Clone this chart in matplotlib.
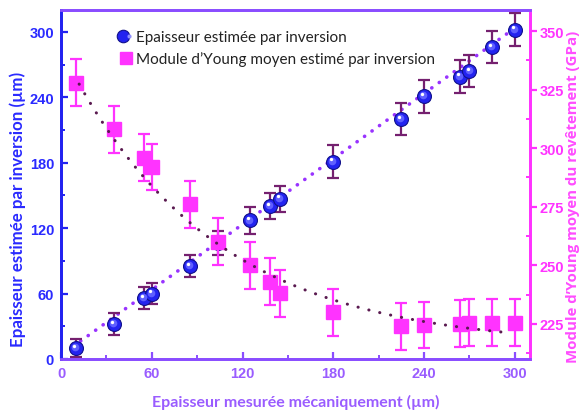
import numpy as np
import matplotlib
matplotlib.use("Agg")
import matplotlib.pyplot as plt
from matplotlib.lines import Line2D
from matplotlib.legend_handler import HandlerTuple
from matplotlib.transforms import ScaledTranslation
from matplotlib.ticker import MultipleLocator

# ---------------- data ----------------
x_thick = [10, 35, 55, 60, 85, 104, 125, 138, 145, 180, 225, 240, 264, 270, 285, 300]
y_thick = [10, 32, 56, 60, 85, 106, 127, 140, 147, 181, 220, 241, 259, 264, 286, 302]
y_thick_err = [8, 10, 10, 10, 10, 11, 12, 12, 12, 15, 15, 15, 15, 15, 15, 15]

x_young = [10, 35, 55, 60, 85, 104, 125, 138, 145, 180, 225, 240, 264, 270, 285, 300]
e_young = [328, 308, 296, 292, 276, 260, 250, 243, 238, 230, 224, 224.5, 225, 225.5, 225.5, 225.5]
e_young_err = [10] * 16

# fit parameters
thick_fit = (1.0, 3.5)            # slope, intercept
young_fit = (215.0, 127.0, 98.0)  # plateau, amplitude, decay length

x_ticks = [0, 60, 120, 180, 240, 300]
y_left_ticks = [0, 60, 120, 180, 240, 300]
y_right_ticks = [225, 250, 275, 300, 325, 350]

label_legend_1 = "Epaisseur estimée par inversion"
label_legend_2 = "Module d\u2019Young moyen estimé par inversion"
xlabel = "Epaisseur mesurée mécaniquement (µm)"
ylabel_left = "Epaisseur estimée par inversion (µm)"
ylabel_right = "Module d\u2019Young moyen du revêtement (GPa)"

# ---------------- colours ----------------
C_BLUE = "#2323f0"
C_BLUE_TXT = "#2a2aff"
C_MAG = "#ff33ff"
C_PURP = "#8a4dff"
C_PURP_TXT = "#9a5cff"
C_ERR_BLUE = "#75206f"
C_FIT_BLUE = "#9933ff"
C_FIT_MAG = "#5a1a50"

fig = plt.figure(figsize=(5.8, 4.14), dpi=100)
ax = fig.add_axes([61 / 580, 1 - 360 / 414, (530 - 61) / 580, (360 - 11) / 414])
ax2 = ax.twinx()

# ---------------- left axis: thickness ----------------
xs = np.linspace(min(x_thick) + 3, max(x_thick) + 3, 200)
ax.plot(xs, thick_fit[0] * xs + thick_fit[1], color=C_FIT_BLUE, lw=2.6,
        linestyle=(0, (0.05, 2.5)), dash_capstyle="round", zorder=2)
ax.errorbar(x_thick, y_thick, yerr=y_thick_err, fmt="none", ecolor=C_ERR_BLUE,
            elinewidth=1.6, capsize=4, capthick=1.6, zorder=3)
ax.plot(x_thick, y_thick, "o", ms=10, mfc=C_BLUE, mec="#10108a", mew=0.8, zorder=4)
off1 = ax.transData + ScaledTranslation(-0.7 / 72, 0.7 / 72, fig.dpi_scale_trans)
off2 = ax.transData + ScaledTranslation(-1.4 / 72, 1.6 / 72, fig.dpi_scale_trans)
ax.plot(x_thick, y_thick, "o", ms=5.5, mfc="#5f5fff", mec="none", transform=off1, zorder=5)
ax.plot(x_thick, y_thick, "o", ms=2.4, mfc="white", mec="none", transform=off2, zorder=6)

ax.set_xlim(0, 310)
ax.set_ylim(0, 320)
ax.set_xticks(x_ticks)
ax.set_yticks(y_left_ticks)
ax.xaxis.set_minor_locator(MultipleLocator(30))
ax.yaxis.set_minor_locator(MultipleLocator(30))

# ---------------- right axis: Young's modulus ----------------
xe = np.linspace(min(x_young) + 2, max(x_young) - 3, 200)
ax2.errorbar(x_young, e_young, yerr=e_young_err, fmt="s", ms=9.5, mfc=C_MAG, mec=C_MAG,
             ecolor=C_MAG, elinewidth=1.6, capsize=4, capthick=1.6, zorder=3)
ax2.plot(xe, young_fit[0] + young_fit[1] * np.exp(-xe / young_fit[2]), color=C_FIT_MAG,
         lw=2.2, linestyle=(0, (0.05, 3.6)), dash_capstyle="round", zorder=4)
ax2.set_ylim(210, 359)
ax2.set_yticks(y_right_ticks)
ax2.yaxis.set_minor_locator(MultipleLocator(12.5))

# ---------------- styling ----------------
for a in (ax, ax2):
    a.spines["left"].set_color(C_BLUE)
    a.spines["right"].set_color(C_MAG)
    a.spines["bottom"].set_color(C_PURP)
    a.spines["top"].set_color(C_PURP)
    for s in a.spines.values():
        s.set_linewidth(2.0)

tick_font = dict(family="Liberation Sans", weight="bold", size=10.5)
ax.tick_params(axis="y", which="major", direction="in", length=5, width=1.6,
               color=C_BLUE, labelcolor=C_BLUE_TXT, pad=5)
ax.tick_params(axis="y", which="minor", direction="in", length=3, width=1.4, color=C_BLUE)
ax.tick_params(axis="x", which="major", direction="in", length=5, width=1.6,
               color=C_PURP, labelcolor=C_PURP_TXT, pad=5)
ax.tick_params(axis="x", which="minor", direction="in", length=3, width=1.4, color=C_PURP)
ax2.tick_params(axis="y", which="major", direction="out", length=5, width=1.6,
                color=C_MAG, labelcolor=C_MAG, pad=2)
ax2.tick_params(axis="y", which="minor", direction="in", length=3, width=1.4, color=C_MAG)
for lab in ax.get_xticklabels() + ax.get_yticklabels() + ax2.get_yticklabels():
    lab.set_fontproperties(tick_font)

ax.set_xlabel(xlabel, color=C_PURP_TXT, family="Lato", weight="bold", size=11.5)
ax.xaxis.set_label_coords(0.5, -0.1)
ax.set_ylabel(ylabel_left, color=C_BLUE_TXT, family="Lato", weight="bold", size=12.2)
ax.yaxis.set_label_coords(-0.075, 0.43)
ax2.set_ylabel(ylabel_right, color="#ff4dff", family="Open Sans", weight="bold", size=10.8)
ax2.yaxis.set_label_coords(1.077, 0.467)

# ---------------- legend ----------------
h1 = (Line2D([], [], marker="o", ls="none", ms=9, mfc=C_BLUE, mec="#10108a", mew=0.8),
      Line2D([], [], marker="o", ls="none", ms=3, mfc="#9090ff", mec="none"))
h2 = Line2D([], [], marker="s", ls="none", ms=9, mfc=C_MAG, mec=C_MAG)
leg = ax2.legend([h1, h2], [label_legend_1, label_legend_2],
                 handler_map={tuple: HandlerTuple(ndivide=None)},
                 loc="upper left", bbox_to_anchor=(0.125, 0.943), frameon=False,
                 prop=dict(family="Lato", size=11), handlelength=0.8,
                 handletextpad=0.3, labelspacing=0.5, borderpad=0, borderaxespad=0)
for t in leg.get_texts():
    t.set_color("#222222")

fig.savefig("out.png", dpi=100)
